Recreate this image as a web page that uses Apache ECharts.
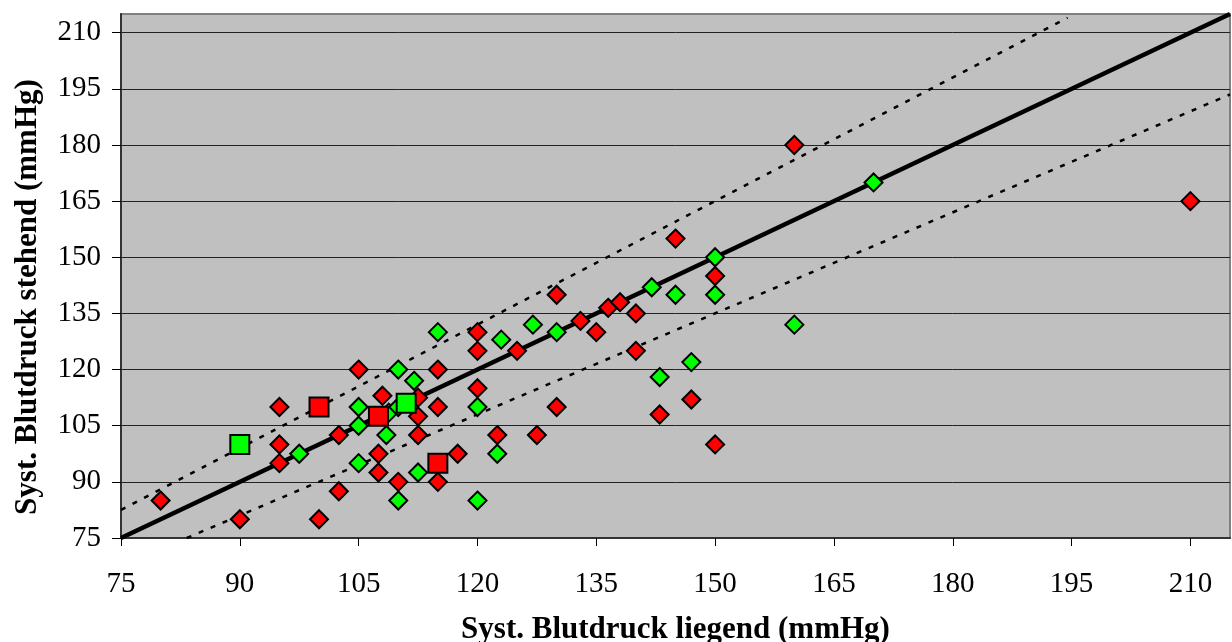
<!DOCTYPE html>
<html>
<head>
<meta charset="utf-8">
<script src="https://cdn.jsdelivr.net/npm/echarts@6/dist/echarts.min.js"></script>
<style>
  html, body { margin: 0; padding: 0; background: #fff; }
  #chart { width: 1232px; height: 642px; }
</style>
</head>
<body>
<div id="chart"></div>
<script>
// tick values on both axes
const tickValues = [75, 90, 105, 120, 135, 150, 165, 180, 195, 210]

// [liegend, stehend]
const redDiamonds = [
  [80, 85], [90, 80], [95, 110], [95, 100], [95, 95], [100, 80], [102.5, 87.5], [102.5, 102.5],
  [105, 120], [108, 113], [107.5, 97.5], [107.5, 92.5], [110, 90], [112.5, 112.5], [112.5, 107.5],
  [112.5, 102.5], [115, 120], [115, 110], [115, 90], [117.5, 97.5], [120, 130], [120, 125], [120, 115],
  [122.5, 102.5], [125, 125], [127.5, 102.5], [130, 140], [130, 110], [133, 133], [135, 130],
  [136.5, 136.5], [138, 138], [140, 135], [140, 125], [143, 108], [145, 155], [147, 112],
  [150, 145], [150, 100], [160, 180], [210, 165]
]
const greenDiamonds = [
  [97.5, 97.5], [105, 110], [105, 105], [105, 95], [108.5, 102.5], [108.8, 108.5], [110, 110],
  [110, 120], [110, 85], [112, 117], [112.5, 92.5], [115, 130], [120, 110], [120, 85], [122.5, 97.5],
  [123, 128], [127, 132], [130, 130], [142, 142], [143, 118], [145, 140], [147, 122], [150, 150],
  [150, 140], [160, 132], [170, 170]
]
const redSquares = [[100, 110], [107.5, 107.5], [115, 95]]
const greenSquares = [[90, 100], [111, 111]]

// identity line and +/-10 % lines (end points)
const identityLine = [[75, 75], [215, 215]]
const upperLine = [[75, 82.5], [194.5, 214]]
const lowerLine = [[83.3, 75], [215, 193.5]]

const chart = echarts.init(document.getElementById('chart'))

const font = 'Liberation Serif, Times New Roman, serif'

const axisCommon = {
  type: 'value',
  min: 75,
  max: 215,
  interval: 15,
  axisLine: { show: true, onZero: false, lineStyle: { color: '#333', width: 2 } },
  axisTick: { show: true, inside: false, length: 8, customValues: tickValues, lineStyle: { color: '#000', width: 1 } },
  axisLabel: { customValues: tickValues, color: '#000', fontFamily: font, fontSize: 29 },
  nameLocation: 'middle',
  nameTextStyle: { color: '#000', fontFamily: font, fontSize: 31, fontWeight: 'bold' }
}

const scatter = (data, color, symbol, size) => ({
  type: 'scatter',
  data: data,
  symbol: symbol,
  symbolSize: size,
  z: 5,
  itemStyle: { color: color, borderColor: '#000', borderWidth: 2, opacity: 1 }
})

const line = (data, width, type) => ({
  type: 'line',
  data: data,
  symbol: 'none',
  z: 3,
  lineStyle: { color: '#000', width: width, type: type }
})

const option = {
  backgroundColor: '#fff',
  animation: false,
  grid: {
    left: 121,
    right: 2,
    top: 14,
    bottom: 104,
    outerBoundsMode: 'none',
    containLabel: false,
    show: true,
    backgroundColor: '#c0c0c0',
    borderColor: '#808080',
    borderWidth: 2
  },
  xAxis: Object.assign({}, axisCommon, {
    name: 'Syst. Blutdruck liegend (mmHg)',
    nameGap: 76,
    splitLine: { show: false },
    axisLabel: Object.assign({}, axisCommon.axisLabel, { margin: 32 })
  }),
  yAxis: Object.assign({}, axisCommon, {
    name: 'Syst. Blutdruck stehend (mmHg)',
    nameGap: 78,
    nameTextStyle: Object.assign({}, axisCommon.nameTextStyle, { padding: [0, 42, 0, 0] }),
    splitLine: { show: true, lineStyle: { color: '#222', width: 1 } },
    axisTick: Object.assign({}, axisCommon.axisTick, { length: 9 }),
    axisLabel: Object.assign({}, axisCommon.axisLabel, { margin: 20 })
  }),
  series: [
    line(upperLine, 2.5, [5, 8]),
    line(lowerLine, 2.5, [5, 8]),
    line(identityLine, 4.5, 'solid'),
    scatter(redDiamonds, '#ff0000', 'diamond', 18),
    scatter(greenDiamonds, '#00ff00', 'diamond', 18),
    scatter(redSquares, '#ff0000', 'rect', 19),
    scatter(greenSquares, '#00ff00', 'rect', 19)
  ]
}

chart.setOption(option)
</script>
</body>
</html>
